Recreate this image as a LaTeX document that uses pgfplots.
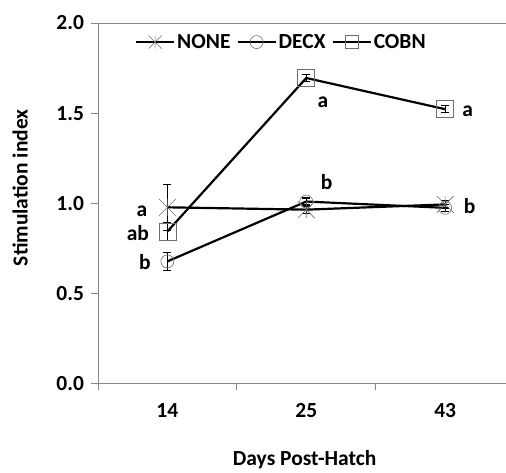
\documentclass[border=0pt]{standalone}
\usepackage{fontspec}
\setmainfont{Carlito}
\usepackage{pgfplots}
\pgfplotsset{compat=1.18}
\definecolor{axisgray}{RGB}{134,134,134}
\definecolor{markgray}{RGB}{110,110,110}
% Excel-style star: an X with a vertical bar
\pgfdeclareplotmark{xstar}{%
  \pgfpathmoveto{\pgfqpoint{-\pgfplotmarksize}{-\pgfplotmarksize}}%
  \pgfpathlineto{\pgfqpoint{\pgfplotmarksize}{\pgfplotmarksize}}%
  \pgfpathmoveto{\pgfqpoint{-\pgfplotmarksize}{\pgfplotmarksize}}%
  \pgfpathlineto{\pgfqpoint{\pgfplotmarksize}{-\pgfplotmarksize}}%
  \pgfpathmoveto{\pgfqpoint{0pt}{-\pgfplotmarksize}}%
  \pgfpathlineto{\pgfqpoint{0pt}{\pgfplotmarksize}}%
  \pgfusepathqstroke}
\begin{document}
\begin{tikzpicture}
\begin{axis}[
    name=ax, at={(0,0)}, anchor=south west,
    scale only axis, width=408pt, height=361pt,
    xmin=0.5, xmax=3.435, ymin=0, ymax=2,
    axis x line*=bottom, axis y line*=left,
    axis line style={axisgray, line width=0.8pt},
    tick style={axisgray, line width=0.8pt},
    tick align=outside, major tick length=6.5pt,
    font=\fontsize{21.5}{26}\selectfont\bfseries,
    xtick={0.5,1.5,2.5}, xticklabels={},
    extra x ticks={1,2,3}, extra x tick labels={14,25,43},
    extra x tick style={major tick length=0pt, xticklabel style={yshift=-16pt}},
    ytick={0,0.5,1,1.5,2},
    yticklabel style={/pgf/number format/fixed, /pgf/number format/fixed zerofill,
        /pgf/number format/precision=1, xshift=-4pt},
    /pgf/number format/assume math mode=true,
    xlabel={Days Post-Hatch},
    xlabel style={at={(rel axis cs:0.507,-0.2105)}, anchor=center},
    ylabel={Stimulation index},
    ylabel style={at={(rel axis cs:-0.191,0.543)}, anchor=center},
    clip=false,
    legend columns=3,
    legend style={at={(rel axis cs:0.45,0.947)}, anchor=center, draw=none, fill=none,
        font=\fontsize{21.5}{26}\selectfont\bfseries,
        /tikz/every even column/.append style={column sep=4pt},
        inner sep=0pt},
    legend image code/.code={\draw[mark repeat=2,mark phase=2,#1,mark size=6.5pt]
        plot coordinates {(0pt,0pt)(19pt,0pt)(38pt,0pt)};},
    every axis plot/.append style={black, line width=2.2pt},
    error bars/y dir=both, error bars/y explicit,
    error bars/error bar style={black, line width=1.3pt},
    error bars/error mark options={rotate=90, mark size=4pt, black, line width=1.3pt},
]
% NONE
\addplot[mark=xstar, mark size=8.5pt, mark options={draw=markgray, line width=0.6pt}]
    coordinates {(1,0.978) +- (0,0.127) (2,0.965) +- (0,0.02) (3,0.994) +- (0,0.02)};
% DECX
\addplot[mark=o, mark size=6.5pt, mark options={draw=markgray, line width=0.6pt}]
    coordinates {(1,0.678) +- (0,0.05) (2,1.01) +- (0,0.02) (3,0.975) +- (0,0.02)};
% COBN
\addplot[mark=square, mark size=8.5pt, mark options={draw=markgray, line width=0.6pt}]
    coordinates {(1,0.844) +- (0,0.05) (2,1.695) +- (0,0.02) (3,1.522) +- (0,0.02)};
\legend{NONE,DECX,COBN}
\draw[axisgray, line width=0.8pt] (rel axis cs:0,1) -- (rel axis cs:1,1);
% significance letters
\node at (axis cs:0.817,0.956) {a};
\node at (axis cs:0.788,0.833) {ab};
\node at (axis cs:0.838,0.672) {b};
\node at (axis cs:2.119,1.561) {a};
\node at (axis cs:2.147,1.117) {b};
\node at (axis cs:3.162,1.511) {a};
\node at (axis cs:3.176,0.983) {b};
\end{axis}
\path[use as bounding box] ([shift={(-98pt,-85pt)}]ax.south west) rectangle ([shift={(0pt,23pt)}]ax.north east);
\end{tikzpicture}
\end{document}
